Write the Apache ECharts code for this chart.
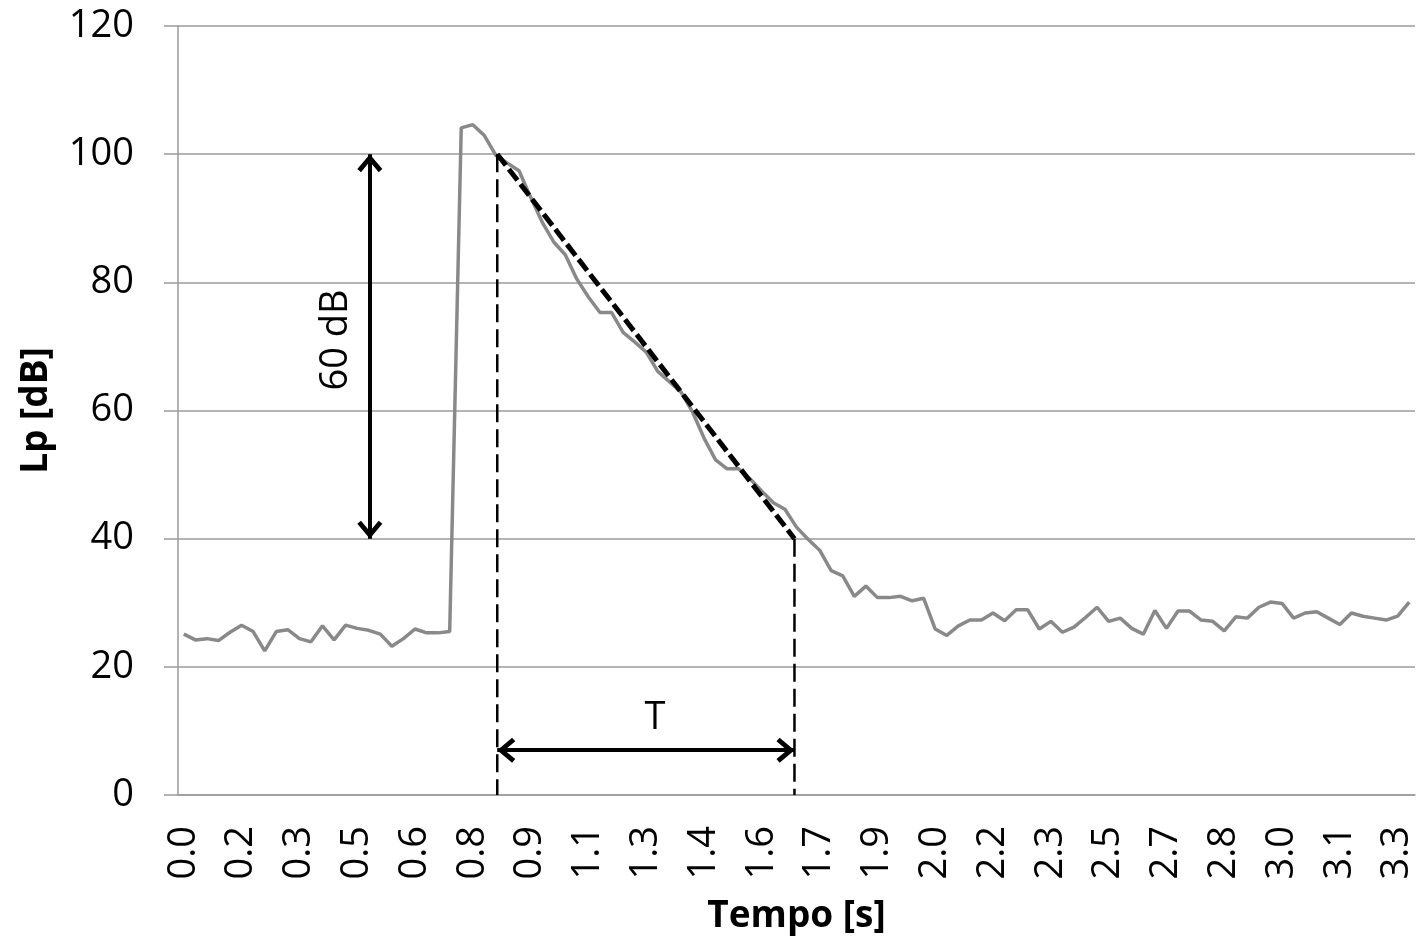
<!DOCTYPE html>
<html><head><meta charset="utf-8">
<script src="https://cdn.jsdelivr.net/npm/echarts@6/dist/echarts.min.js"></script>
<style>html,body{margin:0;padding:0;background:#fff}#c{width:1422px;height:941px}</style>
</head><body><div id="c"></div>
<script>
// sample times [s] (category axis)
const times = [
0.000,0.031,0.063,0.094,0.125,0.156,0.188,0.219,0.250,0.281,0.313,0.344,0.375,0.406,0.438,0.469,
0.500,0.531,0.563,0.594,0.625,0.656,0.688,0.719,0.750,0.781,0.813,0.844,0.875,0.906,0.938,0.969,
1.000,1.031,1.063,1.094,1.125,1.156,1.188,1.219,1.250,1.281,1.313,1.344,1.375,1.406,1.438,1.469,
1.500,1.531,1.563,1.594,1.625,1.656,1.688,1.719,1.750,1.781,1.813,1.844,1.875,1.906,1.938,1.969,
2.000,2.031,2.063,2.094,2.125,2.156,2.188,2.219,2.250,2.281,2.313,2.344,2.375,2.406,2.438,2.469,
2.500,2.531,2.563,2.594,2.625,2.656,2.688,2.719,2.750,2.781,2.813,2.844,2.875,2.906,2.938,2.969,
3.000,3.031,3.063,3.094,3.125,3.156,3.188,3.219,3.250,3.281,3.313];
// sound pressure level Lp [dB]
const levels = [
25.1,24.2,24.4,24.1,25.4,26.5,25.5,22.5,25.5,25.8,24.4,23.9,26.4,24.2,26.5,26.0,
25.7,25.1,23.2,24.4,25.9,25.3,25.3,25.5,104.1,104.6,102.9,99.8,98.6,97.4,93.3,89.4,
86.3,84.3,80.5,77.7,75.3,75.3,72.2,70.7,69.1,66.1,64.5,62.9,59.8,55.7,52.3,50.9,
50.9,49.3,47.4,45.6,44.6,41.8,39.9,38.2,35.0,34.2,31.0,32.6,30.8,30.8,31.0,30.3,
30.7,25.9,24.9,26.4,27.3,27.3,28.4,27.2,28.9,28.9,25.9,27.1,25.4,26.2,27.7,29.3,
27.1,27.6,26.0,25.1,28.8,26.0,28.7,28.7,27.3,27.1,25.6,27.8,27.6,29.3,30.1,29.9,
27.6,28.4,28.6,27.6,26.6,28.4,27.9,27.6,27.3,27.9,30.1];
const sampleStep = 0.03125;
const yTicks = {min: 0, max: 120, step: 20};
// annotations (time [s], level [dB])
const fitLine = [[0.8475, 100], [1.651, 40]];
const rangeArrow = [[0.503, 100], [0.503, 40]];
const timeArrow = [[0.8475, 7], [1.651, 7]];
const rangeText = {t: 0.4115, L: 71, text: '60 dB'};
const timeText = {t: 1.274, L: 12, text: 'T'};

const FONT = 'Open Sans';
const GRAY = '#9b9b9b';
const chevron = 'path://M12,0L24,14L20.5,17L12,7L3.5,17L0,14Z';

const chart = echarts.init(document.getElementById('c'), null, {renderer: 'canvas'});
const arrowItem = (a) => [
  {coord: a[0], symbol: chevron, symbolSize: [25, 18], symbolOffset: [0, 9]},
  {coord: a[1], symbol: chevron, symbolSize: [25, 18], symbolOffset: [0, 9]}
];
const textLabel = (txt, rot) => ({show: true, formatter: txt, rotate: rot, position: 'inside',
  fontFamily: FONT, fontSize: 38, color: '#000', opacity: 1, textBorderWidth: 0});
chart.setOption({
  animation: false,
  backgroundColor: '#fff',
  grid: {left: 178, right: 7, top: 26, bottom: 146, containLabel: false},
  xAxis: [{
    type: 'category', data: times, boundaryGap: true,
    axisLine: {show: true, onZero: false, lineStyle: {color: GRAY, width: 1.5}},
    axisTick: {show: false},
    axisLabel: {interval: 4, rotate: 90, margin: 31, fontFamily: FONT, fontSize: 38, color: '#000',
      formatter: v => parseFloat(v).toFixed(1)},
    name: 'Tempo [s]', nameLocation: 'middle', nameGap: 103,
    nameTextStyle: {fontFamily: FONT, fontSize: 37, fontWeight: 'bold', color: '#000'},
    splitLine: {show: false}
  }, {
    type: 'value', show: false,
    min: times[0] - sampleStep / 2, max: times[times.length - 1] + sampleStep / 2
  }],
  yAxis: {
    type: 'value', min: yTicks.min, max: yTicks.max, interval: yTicks.step,
    axisLine: {show: true, onZero: false, lineStyle: {color: GRAY, width: 1.5}},
    axisTick: {show: true, inside: false, length: 14, lineStyle: {color: GRAY, width: 1.5}},
    axisLabel: {margin: 44, fontFamily: FONT, fontSize: 38, color: '#000'},
    splitLine: {show: true, lineStyle: {color: GRAY, width: 1.5}},
    name: 'Lp [dB]', nameLocation: 'middle', nameGap: 123,
    nameTextStyle: {fontFamily: FONT, fontSize: 37, fontWeight: 'bold', color: '#000'}
  },
  series: [{
    type: 'line', data: levels, showSymbol: false, symbol: 'none',
    lineStyle: {color: '#898989', width: 3.5}, silent: true
  }, {
    type: 'line', xAxisIndex: 1, data: [[fitLine[0][0], fitLine[0][1]], [fitLine[0][0], yTicks.min]],
    symbol: 'none', lineStyle: {color: '#000', width: 2.5, type: [18, 7]}, silent: true
  }, {
    type: 'line', xAxisIndex: 1, data: [[fitLine[1][0], fitLine[1][1]], [fitLine[1][0], yTicks.min]],
    symbol: 'none', lineStyle: {color: '#000', width: 2.5, type: [18, 7]}, silent: true
  }, {
    type: 'line', xAxisIndex: 1, data: fitLine,
    symbol: 'none', lineStyle: {color: '#000', width: 5, type: [14, 5]}, silent: true,
    markLine: {
      silent: true, animation: false,
      label: {show: false},
      lineStyle: {color: '#000', width: 4, type: 'solid'},
      emphasis: {disabled: true},
      data: [arrowItem(rangeArrow), arrowItem(timeArrow)]
    }
  }, {
    type: 'scatter', xAxisIndex: 1, symbolSize: 0, itemStyle: {color: '#000', opacity: 1}, silent: true,
    data: [
      {value: [rangeText.t, rangeText.L], label: textLabel(rangeText.text, 90)},
      {value: [timeText.t, timeText.L], label: textLabel(timeText.text, 0)}
    ]
  }]
});
</script>
</body></html>
